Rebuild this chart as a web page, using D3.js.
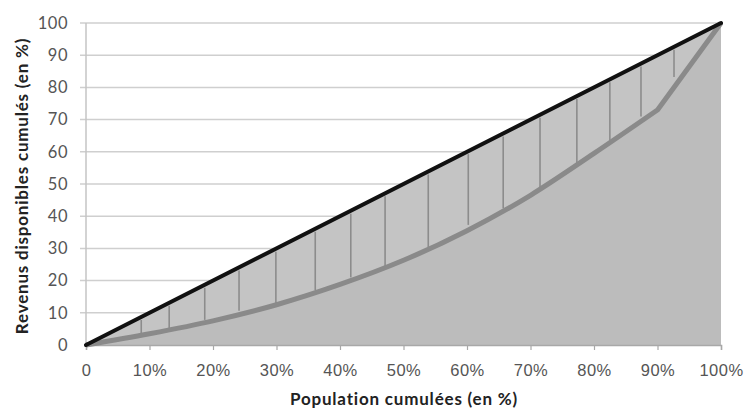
<!DOCTYPE html>
<html>
<head>
<meta charset="utf-8">
<script src="https://cdn.jsdelivr.net/npm/d3@7"></script>
<style>
  body { margin: 0; background: #fff; }
  svg { display: block; font-family: Lato, "Open Sans", sans-serif; }
  .tick-label { fill: #555; font-size: 16.5px; letter-spacing: 0.5px; }
  .axis-title { fill: #222; font-size: 17px; font-weight: bold; letter-spacing: 0.8px; }
</style>
</head>
<body>
<div id="chart"></div>
<script>
// population share (x, in %) and cumulative income share (y, in %)
const population = [0, 10, 20, 30, 40, 50, 60, 70, 80, 90, 100];
const lorenz = [0, 3.5, 7.5, 12.5, 18.8, 26.3, 35.5, 46.5, 59.5, 73, 100];
const equality = [0, 100];

// hatch strokes between the equality line and the curve
const hatchX = [8.7, 13.1, 18.7, 24.1, 29.9, 36.1, 41.7, 47.1, 53.9, 60.2, 65.7, 71.5, 77.3, 82.5, 87.4, 92.6];
const hatchBottom = [3.7, 5.2, 7.8, 10.6, 12.5, 17, 21, 24.5, 30.4, 37.3, 42.5, 48.8, 55.8, 63.7, 71, 83.2];

const yTicks = [0, 10, 20, 30, 40, 50, 60, 70, 80, 90, 100];
const xTicks = [0, 10, 20, 30, 40, 50, 60, 70, 80, 90, 100];
const xTickLabels = ["0", "10%", "20%", "30%", "40%", "50%", "60%", "70%", "80%", "90%", "100%"];

const width = 745,
    height = 410,
    margin = {top: 23, right: 24, bottom: 65, left: 86};

const x = d3.scaleLinear().domain([0, 100]).range([margin.left, width - margin.right]);
const y = d3.scaleLinear().domain([0, 100]).range([height - margin.bottom, margin.top]);

// curve is smooth up to 90%, then a straight segment to 100%
const pts = population.map((p, i) => [x(p), y(lorenz[i])]);
const smoothPart = d3.line().curve(d3.curveMonotoneX)(pts.slice(0, pts.length - 1));
const curvePath = smoothPart + "L" + pts[pts.length - 1].join(",");

const svg = d3.select("#chart")
    .append("svg")
    .attr("width", width)
    .attr("height", height);

// gridlines
svg.append("g")
    .selectAll("line")
    .data(yTicks.slice(1))
    .enter().append("line")
    .attr("x1", margin.left - 6)
    .attr("x2", width - margin.right)
    .attr("y1", d => y(d))
    .attr("y2", d => y(d))
    .attr("stroke", "#cfcfcf")
    .attr("stroke-width", 1.5);

// triangle under the equality line
svg.append("path")
    .attr("d", "M" + x(0) + "," + y(0) + "L" + x(100) + "," + y(100) + "L" + x(100) + "," + y(0) + "Z")
    .attr("fill", "#c4c4c4");

// area under the curve
svg.append("path")
    .attr("d", curvePath + "L" + x(100) + "," + y(0) + "L" + x(0) + "," + y(0) + "Z")
    .attr("fill", "#bcbcbc");

// hatching
svg.append("g")
    .selectAll("line")
    .data(hatchX)
    .enter().append("line")
    .attr("x1", d => x(d))
    .attr("x2", d => x(d))
    .attr("y1", d => y(d) + 3)
    .attr("y2", (d, i) => y(hatchBottom[i]))
    .attr("stroke", "#8c8c8c")
    .attr("stroke-width", 1.6);

// y axis line
svg.append("line")
    .attr("x1", margin.left).attr("x2", margin.left)
    .attr("y1", y(0)).attr("y2", y(100))
    .attr("stroke", "#c4c4c4")
    .attr("stroke-width", 1.5);

// x axis
const xAxis = svg.append("g")
    .attr("transform", "translate(0," + y(0) + ")")
    .call(d3.axisBottom(x).tickValues(xTicks).tickSize(5).tickFormat((d, i) => xTickLabels[i]));
xAxis.select(".domain").attr("stroke", "#a8a8a8").attr("stroke-width", 1.5);
xAxis.selectAll(".tick line").attr("stroke", "#a8a8a8").attr("stroke-width", 1.2);
xAxis.selectAll(".tick text")
    .attr("class", "tick-label")
    .attr("y", 19)
    .attr("font-family", null)
    .attr("font-size", null);

// y tick labels
svg.append("g")
    .selectAll("text")
    .data(yTicks)
    .enter().append("text")
    .attr("class", "tick-label")
    .attr("x", margin.left - 18)
    .attr("y", d => y(d))
    .attr("dy", "0.35em")
    .attr("text-anchor", "end")
    .text(d => d);

// lorenz curve
svg.append("path")
    .attr("d", curvePath)
    .attr("fill", "none")
    .attr("stroke", "#8a8a8a")
    .attr("stroke-width", 5)
    .attr("stroke-linejoin", "round");

// equality line
svg.append("path")
    .datum(equality)
    .attr("d", d3.line().x(d => x(d)).y(d => y(d)))
    .attr("fill", "none")
    .attr("stroke", "#111")
    .attr("stroke-width", 4)
    .attr("stroke-linecap", "round");

// axis titles
svg.append("text")
    .attr("class", "axis-title")
    .attr("x", 404)
    .attr("y", 405)
    .attr("text-anchor", "middle")
    .text("Population cumulées (en %)");

svg.append("text")
    .attr("class", "axis-title")
    .attr("transform", "translate(28,186) rotate(-90)")
    .attr("text-anchor", "middle")
    .text("Revenus disponibles cumulés (en %)");
</script>
</body>
</html>
